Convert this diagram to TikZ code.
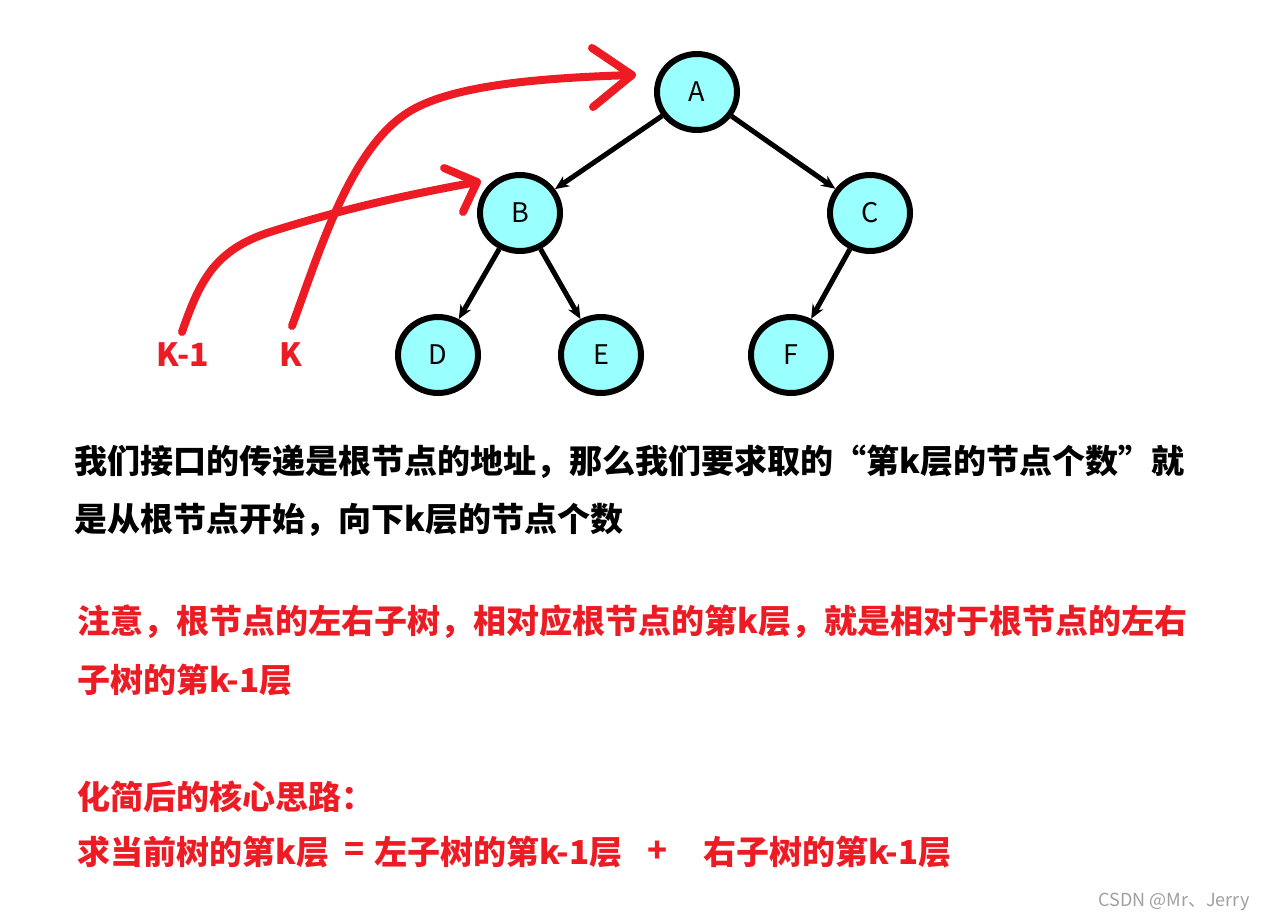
\documentclass[tikz,border=0pt]{standalone}
\usepackage{fontspec}
\usetikzlibrary{arrows.meta,shapes.geometric}
\newfontfamily\cjk{Noto Sans CJK SC}
\definecolor{nodefill}{HTML}{99FFFF}
\definecolor{myred}{HTML}{ED1C24}
\definecolor{wm}{HTML}{A0A0A0}
\tikzset{
  treenode/.style={shape=ellipse, draw=black, fill=nodefill,
    minimum width=80pt, minimum height=76pt, inner sep=0pt},
  treeedge/.style={-{Stealth[length=14pt,width=12pt]}},
  redpath/.style={draw=myred, line width=8pt, line cap=round, line join=round},
  redlabel/.style={text=myred, font=\cjk\bfseries\fontsize{32}{32}\selectfont},
  bodyblack/.style={anchor=west, inner sep=0pt, text=black, font=\cjk\bfseries\fontsize{33}{33}\selectfont},
  bodyred/.style={anchor=west, inner sep=0pt, text=myred, font=\cjk\bfseries\fontsize{33}{33}\selectfont},
}
\newcommand{\nodelabelfont}{\cjk\fontsize{27}{27}\selectfont}
\begin{document}
\begin{tikzpicture}[x=1pt,y=-1pt]
\useasboundingbox[fill=white] (0,0) rectangle (1265,923);
% tree
\begin{scope}[line width=6pt]
\node[treenode] (A) at (697,92) {\nodelabelfont A};
\node[treenode] (B) at (520,213) {\nodelabelfont B};
\node[treenode] (C) at (870,213) {\nodelabelfont C};
\node[treenode] (D) at (438,355) {\nodelabelfont D};
\node[treenode] (E) at (601,355) {\nodelabelfont E};
\node[treenode] (F) at (791,355) {\nodelabelfont F};
\end{scope}
\begin{scope}[line width=5pt]
\draw[treeedge] (A) -- (B);
\draw[treeedge] (A) -- (C);
\draw[treeedge] (B) -- (D);
\draw[treeedge] (B) -- (E);
\draw[treeedge] (C) -- (F);
\end{scope}
% red labels
\node[redlabel] (k1) at (183,355) {K-1};
\node[redlabel] (k) at (291,355) {K};
% red curves
\coordinate (s1) at (182,332);
\coordinate (m1) at (270,232);
\coordinate (t1) at (477,182);
\coordinate (h1a) at (444,168);
\coordinate (h1b) at (463,212);
\coordinate (s2) at (292,326);
\coordinate (m2) at (407,113);
\coordinate (t2) at (632,75);
\coordinate (h2a) at (592,48);
\coordinate (h2b) at (593,107);
\path[redpath] (s1) .. controls (200,280) and (215,250) .. (m1) .. controls (340,210) and (400,196) .. (t1);
\path[redpath] (h1a) -- (t1) -- (h1b);
\path[redpath] (s2) .. controls (320,250) and (350,150) .. (m2) .. controls (450,85) and (540,78) .. (t2);
\path[redpath] (h2a) -- (t2) -- (h2b);
% text
\node[bodyblack] (l1) at (74,462) {我们接口的传递是根节点的地址，那么我们要求取的“第k层的节点个数”就};
\node[bodyblack] (l2) at (74,520) {是从根节点开始，向下k层的节点个数};
\node[bodyred] (r1) at (77,622) {注意，根节点的左右子树，相对应根节点的第k层，就是相对于根节点的左右};
\node[bodyred] (r2) at (77,680) {子树的第k-1层};
\node[bodyred] (r3) at (77,797) {化简后的核心思路：};
\node[bodyred] (r4) at (77,852) {求当前树的第k层};
\node[bodyred, anchor=center] (req) at (355,852) {=};
\node[bodyred] (r4b) at (374,852) {左子树的第k-1层};
\node[bodyred, anchor=center] (r5) at (658,852) {+};
\node[bodyred] (r6) at (703,852) {右子树的第k-1层};
\node[anchor=east, inner sep=0pt, text=wm, font=\cjk\fontsize{18}{18}\selectfont] (wmk) at (1250,902) {CSDN @Mr、Jerry};
\end{tikzpicture}
\end{document}
